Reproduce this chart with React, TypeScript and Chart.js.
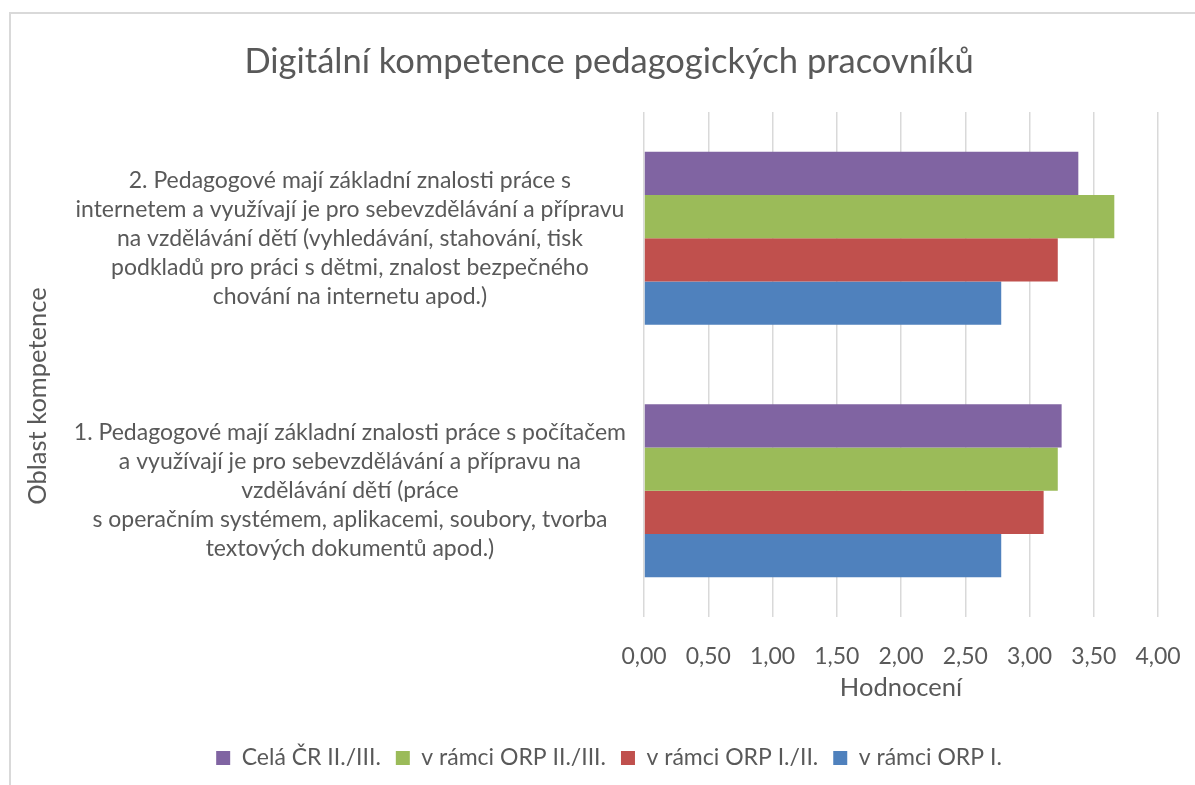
import React, { useEffect, useRef } from 'react';
import { Chart, registerables } from 'chart.js';

Chart.register(...registerables);

const chartTitle = 'Digitální kompetence pedagogických pracovníků';
const xAxisTitle = 'Hodnocení';
const yAxisTitle = 'Oblast kompetence';

const categories: string[][] = [
  [
    '2. Pedagogové mají základní znalosti práce s',
    'internetem a využívají je pro sebevzdělávání a přípravu',
    'na vzdělávání dětí (vyhledávání, stahování, tisk',
    'podkladů pro práci s dětmi, znalost bezpečného',
    'chování na internetu apod.)',
  ],
  [
    '1. Pedagogové mají základní znalosti práce s počítačem',
    'a využívají je pro sebevzdělávání a přípravu na',
    'vzdělávání dětí (práce',
    's operačním systémem, aplikacemi, soubory, tvorba',
    'textových dokumentů apod.)',
  ],
];

const seriesNames = ['Celá ČR II./III.', 'v rámci ORP II./III.', 'v rámci ORP I./II.', 'v rámci ORP I.'];
const celaCR = [3.38, 3.25];
const orpIIIII = [3.66, 3.22];
const orpIII = [3.22, 3.11];
const orpI = [2.78, 2.78];
const seriesColors = ['#8064A2', '#9BBB59', '#C0504D', '#4F81BD'];

const xMin = 0;
const xMax = 4;
const xStep = 0.5;

const FONT = 'Lato, "Open Sans", sans-serif';
const TEXT = '#595959';

export default function App() {
  const ref = useRef<HTMLCanvasElement | null>(null);

  useEffect(() => {
    document.body.style.margin = '0';
    const canvas = ref.current;
    if (!canvas) return;

    const framePlugin = {
      id: 'frame',
      beforeDraw(chart: any) {
        const { ctx, width, height } = chart;
        ctx.save();
        ctx.fillStyle = '#ffffff';
        ctx.fillRect(0, 0, width, height);
        ctx.strokeStyle = '#d9d9d9';
        ctx.lineWidth = 2;
        ctx.beginPath();
        ctx.moveTo(10, height);
        ctx.lineTo(10, 13);
        ctx.lineTo(width, 13);
        ctx.stroke();
        ctx.restore();
      },
    };

    const yTitlePlugin = {
      id: 'yTitle',
      afterDraw(chart: any) {
        const { ctx } = chart;
        ctx.save();
        ctx.translate(38, 396);
        ctx.rotate(-Math.PI / 2);
        ctx.font = `25.5px ${FONT}`;
        ctx.fillStyle = TEXT;
        ctx.textAlign = 'center';
        ctx.textBaseline = 'middle';
        ctx.fillText(yAxisTitle, 0, 0);
        ctx.restore();
      },
    };

    const values = [celaCR, orpIIIII, orpIII, orpI];
    const legendPad = 15;
    const bottomPad = 5.5;
    const legendTop = 785 - bottomPad - (23 + legendPad + 10);

    const chart = new Chart(canvas, {
      type: 'bar',
      data: {
        labels: categories,
        datasets: seriesNames.map((name, i) => ({
          label: name,
          data: values[i],
          backgroundColor: seriesColors[i],
          borderWidth: 0,
          barPercentage: 1,
          categoryPercentage: 0.685,
        })),
      },
      options: {
        indexAxis: 'y',
        responsive: false,
        animation: false,
        layout: { padding: { left: 60, right: 37, top: 0, bottom: bottomPad } },
        plugins: {
          title: {
            display: true,
            text: chartTitle,
            color: TEXT,
            font: { family: FONT, size: 34.5, weight: 'normal' },
            padding: { top: 41.3, bottom: 29.3 },
          },
          legend: {
            position: 'bottom',
            labels: {
              color: TEXT,
              font: { family: FONT, size: 23 },
              boxWidth: 14,
              boxHeight: 14,
              padding: legendPad,
            },
          },
          tooltip: { enabled: false },
        },
        scales: {
          x: {
            min: xMin,
            max: xMax,
            border: { display: false },
            grid: { color: '#d9d9d9', lineWidth: 1.5, drawTicks: false },
            afterFit: (scale: any) => {
              scale.height = legendTop - 617;
              scale.paddingRight = 22;
              scale.paddingLeft = 22;
            },
            ticks: {
              stepSize: xStep,
              color: TEXT,
              padding: 26,
              font: { family: FONT, size: 23 },
              callback: (v: any) => Number(v).toFixed(2).replace('.', ','),
            },
            title: {
              display: true,
              text: xAxisTitle,
              color: TEXT,
              font: { family: FONT, size: 25.5 },
              padding: { top: 2, bottom: legendTop - 688 - 15.3 },
            },
          },
          y: {
            border: { display: false },
            grid: { display: false },
            afterFit: (scale: any) => {
              scale.width = 644 - 60;
            },
            ticks: {
              color: TEXT,
              crossAlign: 'center',
              padding: 10,
              font: { family: FONT, size: 23, lineHeight: 1.26 },
            },
          },
        },
      },
      plugins: [framePlugin, yTitlePlugin],
    } as any);

    return () => chart.destroy();
  }, []);

  return (
    <div style={{ width: 1195, height: 785 }}>
      <canvas ref={ref} width={1195} height={785} />
    </div>
  );
}
